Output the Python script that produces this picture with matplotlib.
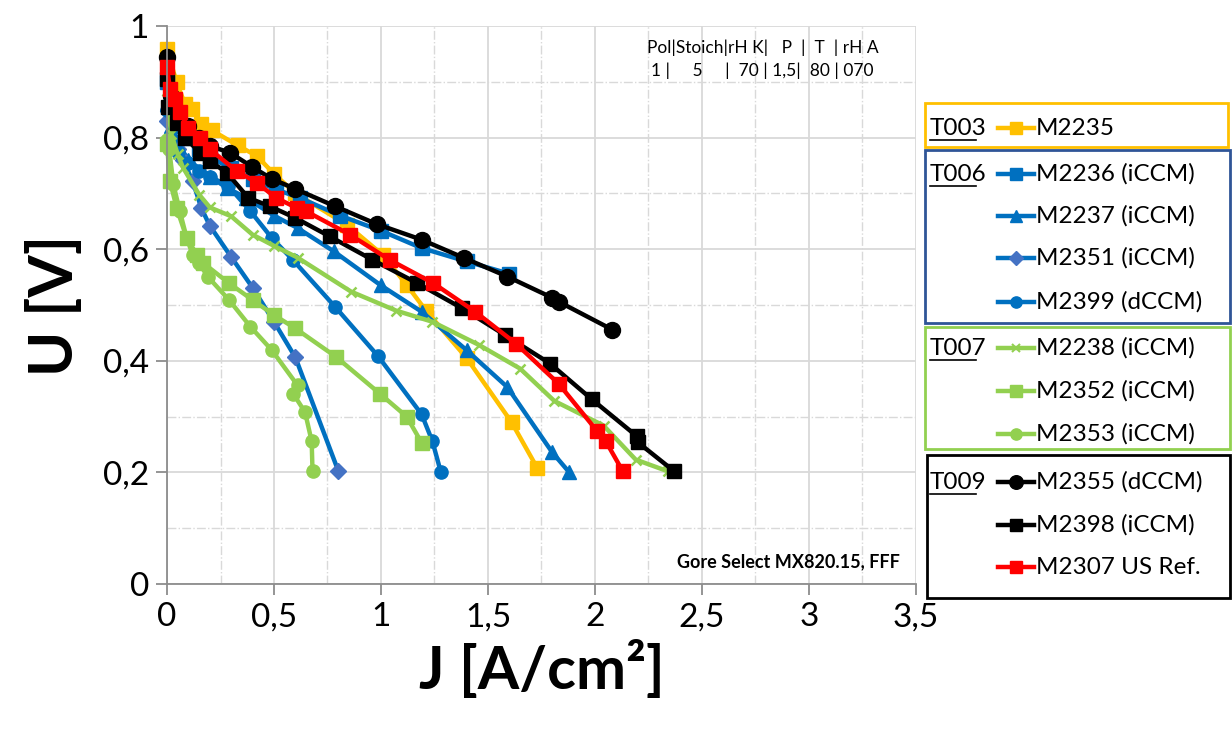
import matplotlib
matplotlib.use("Agg")
import matplotlib.pyplot as plt
from matplotlib.ticker import MultipleLocator, FuncFormatter
from matplotlib.patches import Rectangle

plt.rcParams['font.family'] = ['Lato', 'DejaVu Sans']

# ------------------- dados -------------------
# T003
j_m2235 = [0.0, 0.045, 0.084, 0.115, 0.16, 0.21, 0.33, 0.42, 0.5, 0.6, 0.84, 1.01, 1.12, 1.21, 1.40, 1.61, 1.73]
u_m2235 = [0.958, 0.899, 0.86, 0.851, 0.825, 0.813, 0.786, 0.767, 0.735, 0.70, 0.644, 0.589, 0.536, 0.49, 0.405, 0.29, 0.208]
# T006
j_m2236 = [0.0, 0.02, 0.05, 0.1, 0.15, 0.2, 0.3, 0.4, 0.51, 0.62, 0.81, 1.0, 1.19, 1.4, 1.6]
u_m2236 = [0.90, 0.86, 0.83, 0.80, 0.78, 0.765, 0.745, 0.725, 0.707, 0.692, 0.66, 0.633, 0.602, 0.578, 0.556]
j_m2237 = [0.0, 0.02, 0.05, 0.1, 0.2, 0.28, 0.37, 0.5, 0.61, 0.78, 1.0, 1.19, 1.40, 1.59, 1.80, 1.88]
u_m2237 = [0.86, 0.82, 0.79, 0.76, 0.73, 0.71, 0.692, 0.66, 0.638, 0.596, 0.535, 0.488, 0.419, 0.353, 0.236, 0.2]
j_m2351 = [0.0, 0.02, 0.05, 0.075, 0.12, 0.16, 0.2, 0.3, 0.4, 0.5, 0.6, 0.8]
u_m2351 = [0.83, 0.80, 0.78, 0.76, 0.722, 0.674, 0.642, 0.586, 0.531, 0.47, 0.406, 0.203]
j_m2399 = [0.0, 0.02, 0.05, 0.1, 0.15, 0.2, 0.285, 0.39, 0.49, 0.59, 0.785, 0.985, 1.19, 1.24, 1.28]
u_m2399 = [0.85, 0.80, 0.775, 0.755, 0.74, 0.73, 0.714, 0.668, 0.62, 0.58, 0.497, 0.409, 0.304, 0.256, 0.2]
# T007
j_m2238 = [0.0, 0.02, 0.05, 0.075, 0.15, 0.2, 0.3, 0.4, 0.5, 0.61, 0.86, 1.07, 1.24, 1.46, 1.65, 1.81, 2.04, 2.19, 2.34]
u_m2238 = [0.87, 0.806, 0.77, 0.746, 0.698, 0.675, 0.659, 0.626, 0.606, 0.585, 0.524, 0.49, 0.47, 0.428, 0.386, 0.328, 0.284, 0.223, 0.202]
j_m2352 = [0.0, 0.014, 0.045, 0.092, 0.14, 0.17, 0.29, 0.4, 0.5, 0.6, 0.79, 0.995, 1.12, 1.19]
u_m2352 = [0.788, 0.722, 0.674, 0.62, 0.59, 0.575, 0.539, 0.509, 0.482, 0.458, 0.407, 0.341, 0.30, 0.253]
j_m2353 = [0.0, 0.01, 0.03, 0.06, 0.092, 0.12, 0.15, 0.19, 0.29, 0.39, 0.49, 0.61, 0.59, 0.645, 0.676, 0.68]
u_m2353 = [0.795, 0.78, 0.716, 0.668, 0.62, 0.59, 0.575, 0.551, 0.509, 0.461, 0.419, 0.356, 0.341, 0.308, 0.256, 0.202]
# T009
j_m2355 = [0.0, 0.02, 0.05, 0.1, 0.15, 0.2, 0.294, 0.396, 0.49, 0.6, 0.785, 0.98, 1.19, 1.39, 1.59, 1.80, 1.83, 2.08]
u_m2355 = [0.944, 0.875, 0.845, 0.82, 0.80, 0.785, 0.773, 0.748, 0.726, 0.708, 0.677, 0.645, 0.617, 0.584, 0.551, 0.513, 0.506, 0.456]
j_m2398 = [0.0, 0.005, 0.045, 0.084, 0.154, 0.2, 0.28, 0.38, 0.48, 0.6, 0.76, 0.96, 1.17, 1.38, 1.58, 1.79, 1.985, 2.195, 2.2, 2.37]
u_m2398 = [0.905, 0.854, 0.827, 0.80, 0.773, 0.758, 0.737, 0.692, 0.677, 0.656, 0.623, 0.581, 0.539, 0.494, 0.446, 0.395, 0.331, 0.265, 0.254, 0.202]
j_m2307 = [0.0, 0.014, 0.037, 0.06, 0.1, 0.154, 0.2, 0.326, 0.42, 0.51, 0.606, 0.65, 0.855, 1.04, 1.245, 1.44, 1.63, 1.83, 2.01, 2.05, 2.13]
u_m2307 = [0.926, 0.887, 0.869, 0.845, 0.818, 0.80, 0.779, 0.74, 0.719, 0.692, 0.674, 0.668, 0.626, 0.581, 0.539, 0.488, 0.431, 0.359, 0.274, 0.256, 0.202]

nomes = ["M2235", "M2236 (iCCM)", "M2237 (iCCM)", "M2351 (iCCM)", "M2399 (dCCM)",
         "M2238 (iCCM)", "M2352 (iCCM)", "M2353 (iCCM)",
         "M2355 (dCCM)", "M2398 (iCCM)", "M2307 US Ref."]
grupos = ["T003", "T006", "T007", "T009"]
# ---------------------------------------------------------------

LARANJA = "#FFC000"
AZUL = "#0070C0"
AZUL_D = "#4472C4"
VERDE = "#92D050"
PRETO = "#000000"
VERMELHO = "#FF0000"

# (J, U, cor linha, marcador, cor marcador, tamanho)
estilos = [
    (j_m2235, u_m2235, LARANJA, "s", LARANJA, 9.5),
    (j_m2236, u_m2236, AZUL, "s", AZUL, 9.5),
    (j_m2237, u_m2237, AZUL, "^", AZUL, 10.5),
    (j_m2351, u_m2351, AZUL, "D", AZUL_D, 8.5),
    (j_m2399, u_m2399, AZUL, "o", AZUL, 9.5),
    (j_m2238, u_m2238, VERDE, "x", VERDE, 7),
    (j_m2352, u_m2352, VERDE, "s", VERDE, 9.5),
    (j_m2353, u_m2353, VERDE, "o", VERDE, 9.5),
    (j_m2355, u_m2355, PRETO, "o", PRETO, 11.5),
    (j_m2398, u_m2398, PRETO, "s", PRETO, 10.5),
    (j_m2307, u_m2307, VERMELHO, "s", VERMELHO, 10.5),
]

W, H = 1232, 737
fig = plt.figure(figsize=(W / 100, H / 100), dpi=100)
ax = fig.add_axes([167 / W, 1 - 584 / H, (916 - 167) / W, (584 - 26) / H])

for (j, u, cor, mk, mcor, ms), nome in zip(estilos, nomes):
    ax.plot(j, u, color=cor, lw=3.2, marker=mk, ms=ms, mfc=mcor, mec=mcor,
            mew=1.8 if mk == "x" else 1.0, label=nome, clip_on=False)

ax.set_xlim(0, 3.5)
ax.set_ylim(0, 1)
ax.xaxis.set_major_locator(MultipleLocator(0.5))
ax.xaxis.set_minor_locator(MultipleLocator(0.25))
ax.yaxis.set_major_locator(MultipleLocator(0.2))
ax.yaxis.set_minor_locator(MultipleLocator(0.1))
virgula = FuncFormatter(lambda v, p: f"{v:g}".replace(".", ","))
ax.xaxis.set_major_formatter(virgula)
ax.yaxis.set_major_formatter(virgula)
ax.grid(True, which="major", color="#D9D9D9", lw=1.3, ls="-")
ax.grid(True, which="minor", color="#D9D9D9", lw=1.0, ls="-.")
ax.set_axisbelow(True)
for lado in ["top", "right"]:
    ax.spines[lado].set_visible(False)
for lado in ["left", "bottom"]:
    ax.spines[lado].set_color("#8C8C8C")
    ax.spines[lado].set_linewidth(1.3)
ax.tick_params(which="major", length=8, width=1.3, color="#8C8C8C", labelsize=24, pad=5)
ax.tick_params(which="minor", length=0)
ax.set_xlabel("J [A/cm²]", fontsize=43, fontweight="bold", labelpad=6)
ax.set_ylabel("U [V]", fontsize=44, fontweight="bold", labelpad=14)

ax.text(0.795, 0.975, "Pol|Stoich|rH K|   P  |  T  | rH A", transform=ax.transAxes,
        fontsize=12.5, ha="center", va="top")
ax.text(0.795, 0.935, "1 |     5     |  70 | 1,5|  80 | 070", transform=ax.transAxes,
        fontsize=12.5, ha="center", va="top")
ax.text(0.978, 0.04, "Gore Select MX820.15, FFF", transform=ax.transAxes,
        fontsize=13, fontweight="bold", ha="right", va="center")

# legenda montada à mão, em pixels da figura
lg = fig.add_axes([0, 0, 1, 1], facecolor="none")
lg.set_xlim(0, W)
lg.set_ylim(H, 0)
lg.axis("off")

caixas = [(925, 103, 1228, 147, LARANJA), (925, 150, 1230, 323, "#2F5597"),
          (925, 327, 1230, 449, VERDE), (927, 455, 1230, 598, PRETO)]
for x0, y0, x1, y1, cor in caixas:
    lg.add_patch(Rectangle((x0, y0), x1 - x0, y1 - y0, fill=False, ec=cor, lw=2))

linhas_y = [128, 174, 216, 258, 302, 348, 391, 434, 482, 525, 567]
inicio_grupo = [0, 1, 5, 8]
for g, idx in zip(grupos, inicio_grupo):
    y = linhas_y[idx]
    lg.text(930, y, g, fontsize=17.5, ha="left", va="center")
    lg.plot([930, 976], [y + 12, y + 12], color="black", lw=1.2)

for (j, u, cor, mk, mcor, ms), nome, y in zip(estilos, nomes, linhas_y):
    lg.plot([998, 1034], [y, y], color=cor, lw=3.2)
    lg.plot([1016], [y], marker=mk, ms=ms * 0.85, color=mcor, mew=1.5 if mk == "x" else 1.0)
    lg.text(1036, y, nome, fontsize=17.5, ha="left", va="center")

fig.savefig("out.png", dpi=100)
